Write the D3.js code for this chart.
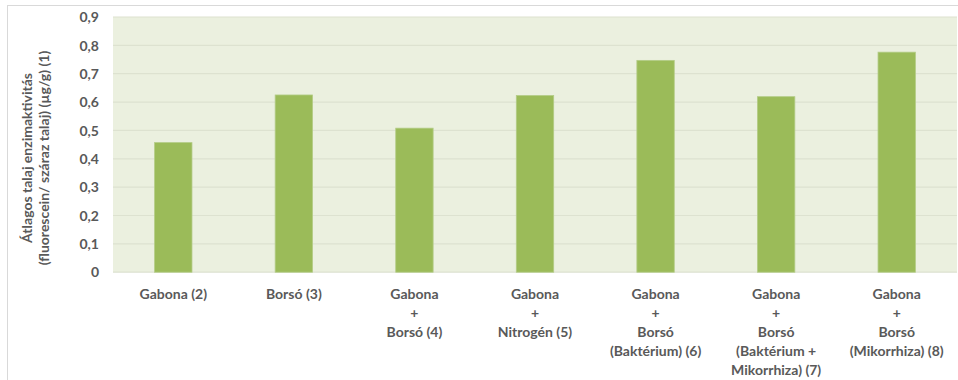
<!DOCTYPE html>
<html><head><meta charset="utf-8">
<script src="https://cdn.jsdelivr.net/npm/d3@7"></script>
<style>body{margin:0;background:#fff;} svg{display:block;}</style>
</head><body>
<svg id="c" width="958" height="380"></svg>
<script>
const categories = [
  ["Gabona (2)"],
  ["Borsó (3)"],
  ["Gabona", "+", "Borsó (4)"],
  ["Gabona", "+", "Nitrogén (5)"],
  ["Gabona", "+", "Borsó", "(Baktérium) (6)"],
  ["Gabona", "+", "Borsó", "(Baktérium +", "Mikorrhiza) (7)"],
  ["Gabona", "+", "Borsó", "(Mikorrhiza) (8)"]
];
const values = [0.457, 0.625, 0.508, 0.623, 0.747, 0.619, 0.776];
const yTicks = [0, 0.1, 0.2, 0.3, 0.4, 0.5, 0.6, 0.7, 0.8, 0.9];
const yTitle = ["Átlagos talaj enzimaktivitás", "(fluorescein/ száraz talaj) (µg/g) (1)"];

const svg = d3.select("#c");
const font = "Lato, 'Open Sans', sans-serif";
const textCol = "#595959";
const pLeft = 113, pRight = 957, pTop = 17, pBottom = 272.2;

// outer border
svg.append("rect").attr("x", 7.5).attr("y", 5.5).attr("width", 960).attr("height", 380)
  .attr("fill", "#fff").attr("stroke", "#d9d9d9");

const x = d3.scaleBand().domain(d3.range(categories.length)).range([pLeft, pRight]).paddingInner(0.69).paddingOuter(0.345);
const y = d3.scaleLinear().domain([0, 0.9]).range([pBottom, pTop]);

svg.append("rect").attr("x", pLeft).attr("y", pTop).attr("width", pRight - pLeft).attr("height", pBottom - pTop).attr("fill", "#ebf0df");

svg.append("g").selectAll("line").data(yTicks).join("line")
  .attr("x1", pLeft).attr("x2", pRight).attr("y1", d => y(d)).attr("y2", d => y(d))
  .attr("stroke", "#dde2d0").attr("stroke-width", 1.2);

svg.append("g").selectAll("rect").data(values).join("rect")
  .attr("x", (d, i) => x(i)).attr("width", x.bandwidth())
  .attr("y", d => y(d)).attr("height", d => pBottom - y(d))
  .attr("fill", "#9bbb59").attr("stroke", "#b3cc86").attr("stroke-width", 0.8);

const yAxis = d3.axisLeft(y).tickValues(yTicks).tickSize(0).tickPadding(0)
  .tickFormat(d => d === 0 ? "0" : d3.format(".1f")(d).replace(".", ","));
const ga = svg.append("g").attr("transform", `translate(${pLeft - 14},0)`).call(yAxis);
ga.select(".domain").remove();
ga.selectAll("text").attr("font-family", font).attr("font-size", 14).attr("font-weight", "bold")
  .attr("fill", textCol).attr("dy", "0.34em");

const cg = svg.append("g");
categories.forEach((lines, i) => {
  const t = cg.append("text").attr("x", x(i) + x.bandwidth() / 2).attr("y", 298.7)
    .attr("text-anchor", "middle").attr("font-family", font).attr("font-size", 14)
    .attr("font-weight", "bold").attr("fill", textCol);
  lines.forEach((l, j) => t.append("tspan").attr("x", x(i) + x.bandwidth() / 2).attr("y", 298.7 + j * 19.1).text(l));
});

const tg = svg.append("g").attr("transform", "translate(0,158) rotate(-90)");
yTitle.forEach((l, j) => tg.append("text").attr("x", 0).attr("y", 32 + j * 16.5)
  .attr("text-anchor", "middle").attr("font-family", font).attr("font-size", 14)
  .attr("font-weight", "bold").attr("fill", textCol).text(l));
</script>
</body></html>
